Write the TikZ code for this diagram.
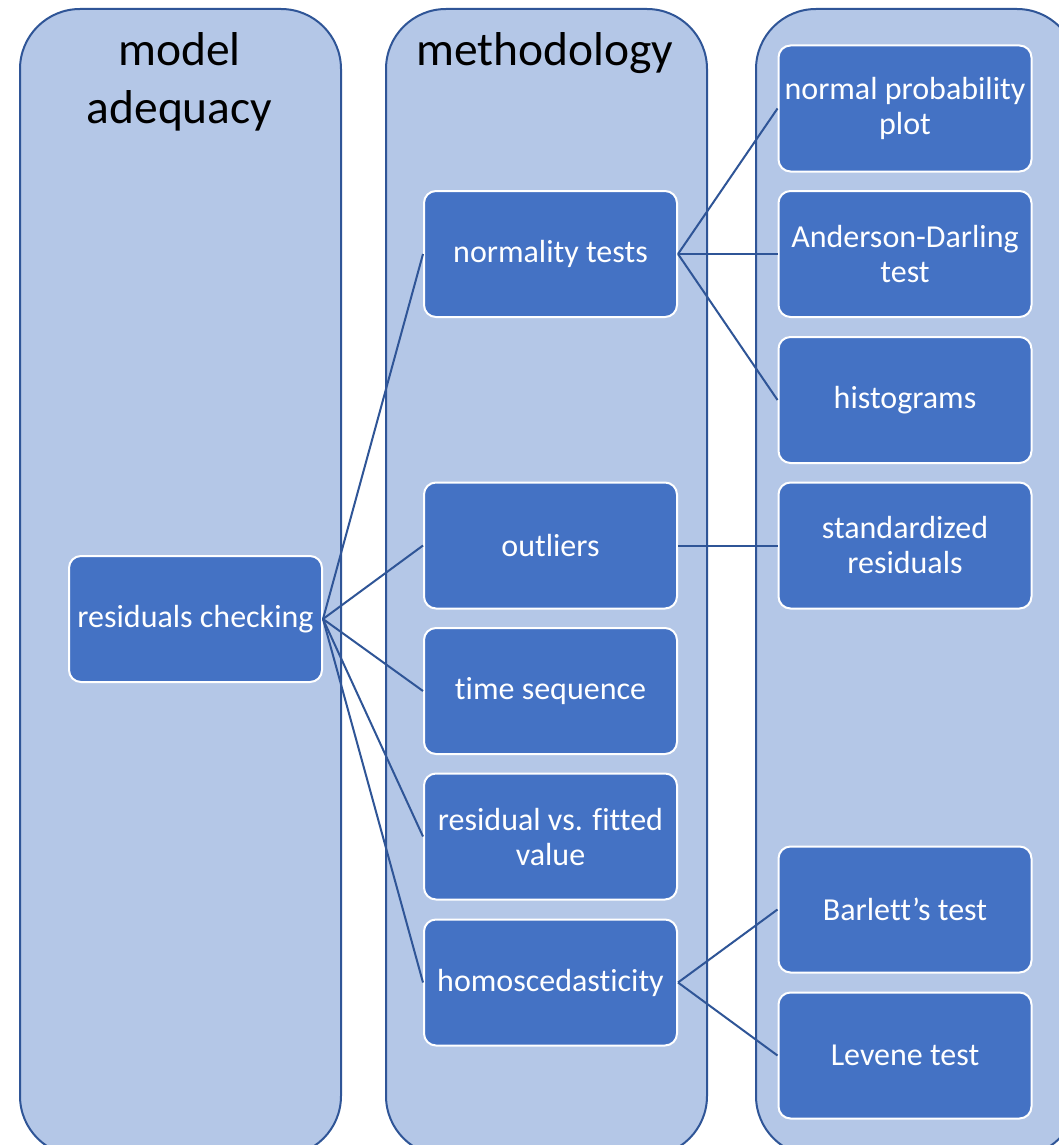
\documentclass[tikz,border=0pt]{standalone}
\usepackage{fontspec}
\setmainfont{Carlito}[Ligatures=NoCommon]
\definecolor{colfill}{HTML}{B4C7E7}
\definecolor{colborder}{HTML}{2F5597}
\definecolor{boxfill}{HTML}{4472C4}
\definecolor{linkcol}{HTML}{2F5597}
\begin{document}
\begin{tikzpicture}[x=1pt,y=-1pt,
  col/.style={draw=colborder, fill=colfill, line width=2pt, rounded corners=60pt,
    minimum width=321pt, minimum height=1147pt, inner sep=0pt, anchor=north west},
  hdr/.style={font=\fontsize{47.5}{58}\selectfont, text=black, align=center},
  box/.style={draw=white, fill=boxfill, line width=2pt, rounded corners=12pt,
    minimum width=253pt, minimum height=126pt, inner sep=2pt, text=white,
    align=center, font=\fontsize{32}{35}\selectfont},
  link/.style={draw=linkcol, line width=2pt}]
\clip (0,0) rectangle (1059,1145);
\fill[white] (0,0) rectangle (1059,1145);
% columns
\node[col] (c1) at (19,8) {};
\node[col] (c2) at (385,8) {};
\node[col] (c3) at (755,8) {};
% headers
\node[hdr] (h1) at (179.5,82) {model\\adequacy};
\node[hdr] (h2) at (545,53) {methodology};
% boxes
\node[box] (rc) at (195.5,619) {residuals checking};
\node[box] (nt) at (550.5,254) {normality tests};
\node[box] (ou) at (550.5,545.5) {outliers};
\node[box] (ts) at (550.5,691) {time sequence};
\node[box] (rf) at (550.5,836.5) {residual vs. fitted\\value};
\node[box] (ho) at (550.5,982.5) {homoscedasticity};
\node[box] (np) at (905,108.5) {normal probability\\plot};
\node[box] (ad) at (905,254) {Anderson-Darling\\test};
\node[box] (hi) at (905,400) {histograms};
\node[box] (sr) at (905,545.5) {standardized\\residuals};
\node[box] (bt) at (905,909.5) {Barlett’s test};
\node[box] (lt) at (905,1055.5) {Levene test};
% connectors
\foreach \t in {nt,ou,ts,rf,ho} \draw[link] (rc.east) -- (\t.west);
\foreach \t in {np,ad,hi} \draw[link] (nt.east) -- (\t.west);
\draw[link] (ou.east) -- (sr.west);
\foreach \t in {bt,lt} \draw[link] (ho.east) -- (\t.west);
\end{tikzpicture}
\end{document}
